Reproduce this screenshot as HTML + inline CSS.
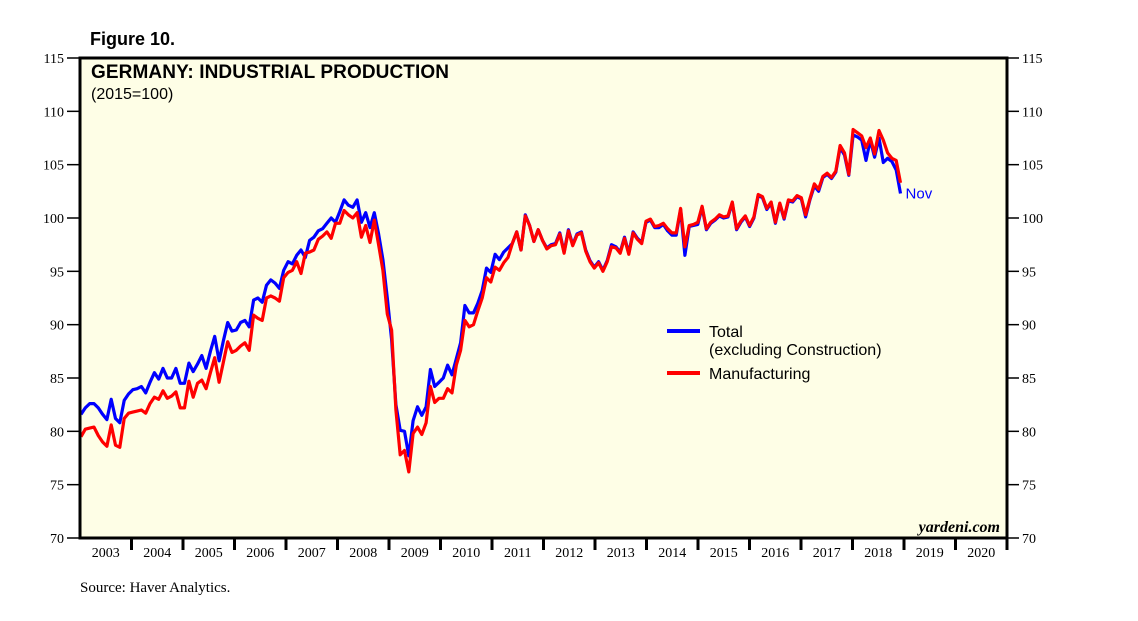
<!DOCTYPE html>
<html><head><meta charset="utf-8"><style>
body{margin:0;background:#fff;}
svg{display:block;}
</style></head><body>
<svg id="chart" width="1138" height="621" xmlns="http://www.w3.org/2000/svg">
<text x="90" y="45" font-family="Liberation Sans, sans-serif" font-weight="bold" font-size="18">Figure 10.</text>
<rect x="80" y="58" width="927" height="480" fill="#fefee6"/>
<g id="grid"></g>
<g id="series"></g>
<rect x="80" y="58" width="927" height="480" fill="none" stroke="#000" stroke-width="3"/>
<text x="91" y="78" font-family="Liberation Sans, sans-serif" font-weight="bold" font-size="19" textLength="358">GERMANY: INDUSTRIAL PRODUCTION</text>
<text x="91" y="99" font-family="Liberation Sans, sans-serif" font-size="16">(2015=100)</text>
<text x="1000" y="532" text-anchor="end" font-family="Liberation Serif, serif" font-style="italic" font-weight="bold" font-size="16">yardeni.com</text>
<g>
<line x1="667" y1="331" x2="700" y2="331" stroke="#0000ff" stroke-width="4"/>
<text x="709" y="337" font-family="Liberation Sans, sans-serif" font-size="16">Total</text>
<text x="709" y="355" font-family="Liberation Sans, sans-serif" font-size="16">(excluding Construction)</text>
<line x1="667" y1="373" x2="700" y2="373" stroke="#ff0000" stroke-width="4"/>
<text x="709" y="379" font-family="Liberation Sans, sans-serif" font-size="16">Manufacturing</text>
</g>
<text x="80" y="592" font-family="Liberation Serif, serif" font-size="15">Source: Haver Analytics.</text>
</svg>
<script>
const yTicks=[70,75,80,85,90,95,100,105,110,115];
const years=[2003,2004,2005,2006,2007,2008,2009,2010,2011,2012,2013,2014,2015,2016,2017,2018,2019,2020];
const total=[81.6,82.2,82.6,82.6,82.2,81.6,81.1,83.0,81.2,80.8,82.9,83.5,
83.9,84.0,84.2,83.6,84.6,85.5,84.9,85.9,85.0,85.0,85.9,84.5,
84.5,86.4,85.6,86.3,87.1,85.9,87.5,88.9,86.6,88.5,90.2,89.4,
89.5,90.2,90.4,89.8,92.3,92.5,92.1,93.7,94.2,93.9,93.4,95.1,
95.9,95.7,96.5,97.0,96.3,97.9,98.2,98.8,99.0,99.5,100.0,99.6,
100.6,101.7,101.2,101.0,101.7,99.6,100.5,99.1,100.5,98.5,96.1,92.5,
88.6,82.5,80.1,80.0,77.7,81.0,82.3,81.5,82.3,85.8,84.2,84.6,
85.0,86.2,85.3,86.8,88.3,91.8,91.1,91.1,92.0,93.2,95.3,94.9,
96.6,96.1,96.8,97.2,97.6,98.7,97.0,100.3,99.3,97.8,98.9,97.9,
97.2,97.5,97.6,98.6,96.8,98.9,97.5,98.5,98.7,97.0,96.0,95.4,
95.9,95.1,96.0,97.5,97.3,96.8,98.2,96.7,98.7,98.1,97.7,99.6,
99.8,99.1,99.1,99.4,98.8,98.4,98.4,100.8,96.5,99.2,99.3,99.4,
101.0,98.9,99.5,99.8,100.2,100.0,100.1,101.4,98.9,99.6,100.1,99.2,
100.0,102.1,101.9,100.8,101.4,99.5,101.3,99.9,101.6,101.5,102.0,101.8,
100.1,101.7,103.0,102.5,103.8,104.1,103.7,104.3,106.6,105.9,104.0,107.8,
107.6,107.3,105.4,107.3,105.7,107.5,105.2,105.6,105.3,104.5,102.3];
const manufacturing=[79.5,80.2,80.3,80.4,79.6,79.0,78.6,80.6,78.7,78.5,81.2,81.7,
81.8,81.9,82.0,81.7,82.6,83.2,83.0,83.8,83.1,83.3,83.7,82.2,
82.2,84.7,83.2,84.5,84.8,84.0,85.5,86.9,84.6,86.5,88.4,87.4,
87.6,88.0,88.3,87.6,90.9,90.6,90.4,92.5,92.7,92.5,92.2,94.4,
94.9,95.1,95.9,94.8,96.7,96.8,97.0,98.0,98.3,98.7,98.1,99.5,
99.5,100.7,100.3,100.0,100.5,98.2,99.3,97.7,99.8,97.5,95.1,91.0,
89.5,82.0,77.8,78.2,76.2,79.8,80.4,79.7,80.8,84.2,82.7,83.1,
83.1,84.0,83.6,86.2,87.6,90.4,89.8,90.0,91.3,92.5,94.4,94.0,
95.4,95.1,95.8,96.3,97.6,98.7,97.0,100.2,99.3,97.8,98.9,97.9,
97.1,97.4,97.5,98.5,96.7,98.8,97.4,98.4,98.6,96.9,95.9,95.3,
95.8,95.0,95.9,97.3,97.2,96.7,98.1,96.6,98.6,98.0,97.6,99.7,
99.9,99.2,99.3,99.5,99.0,98.6,98.6,100.9,97.3,99.3,99.4,99.6,
101.1,99.0,99.6,99.9,100.3,100.1,100.2,101.5,99.0,99.7,100.2,99.3,
100.1,102.2,102.0,100.9,101.5,99.6,101.4,100.0,101.7,101.6,102.1,101.9,
100.3,101.8,103.2,102.7,103.9,104.2,103.8,104.4,106.8,106.1,104.1,108.3,
108.0,107.7,106.6,107.5,106.0,108.2,107.3,106.1,105.6,105.4,103.3];
const lastLabel="Nov";

const X0=80,X1=1007,Y0=538,Y1=58;
const yMin=70,yMax=115,tMin=2003,tMax=2021;
function xScale(t){return X0+(t-tMin)/(tMax-tMin)*(X1-X0);}
function yScale(v){return Y0-(v-yMin)/(yMax-yMin)*(Y0-Y1);}
function monthX(i){return xScale(tMin+0.02+i/12*1.005);}
const NS="http://www.w3.org/2000/svg";
const grid=document.getElementById('grid');
const ser=document.getElementById('series');
function mk(tag,attrs,parent,txt){const e=document.createElementNS(NS,tag);for(const k in attrs)e.setAttribute(k,attrs[k]);if(txt!==undefined)e.textContent=txt;parent.appendChild(e);return e;}
yTicks.forEach(v=>{
  const y=yScale(v);
  let t=mk('line',{x1:67,x2:X0,y1:y,y2:y,stroke:'#000','stroke-width':1.5},grid);
  
  
  let t2=mk('line',{x1:X1,x2:X1+12,y1:y,y2:y,stroke:'#000','stroke-width':1.5},grid);
  
  
  let l=mk('text',{x:64,y:y+5,'text-anchor':'end','font-family':'Liberation Serif, serif','font-size':14},grid,String(v));
  
  
  let r=mk('text',{x:1022,y:y+5,'font-family':'Liberation Serif, serif','font-size':14},grid,String(v));
  
  
});
years.forEach((yr,i)=>{
  const x=xScale(yr);
  if(i>0){let t=mk('line',{x1:x,x2:x,y1:Y0,y2:Y0+12,stroke:'#000','stroke-width':3},grid);
  
  }
  let l=mk('text',{x:(x+xScale(yr+1))/2,y:557,'text-anchor':'middle','font-family':'Liberation Serif, serif','font-size':14},grid,String(yr));
  
  
});
{let t=mk('line',{x1:X1,x2:X1,y1:Y0,y2:Y0+12,stroke:'#000','stroke-width':3},grid);

}
function path(arr){return arr.map((v,i)=>(i?'L':'M')+monthX(i).toFixed(1)+','+yScale(v).toFixed(1)).join('');}
let pb=mk('path',{d:path(total),fill:'none',stroke:'#0000ff','stroke-width':3.2,'stroke-linejoin':'round'},ser);


let pr=mk('path',{d:path(manufacturing),fill:'none',stroke:'#ff0000','stroke-width':3.2,'stroke-linejoin':'round'},ser);


const li=total.length-1;
let nl=mk('text',{x:monthX(li)+5,y:yScale(total[li])+5,fill:'#0000ff','font-family':'Liberation Sans, sans-serif','font-size':15},ser,lastLabel);


</script>
</body></html>
